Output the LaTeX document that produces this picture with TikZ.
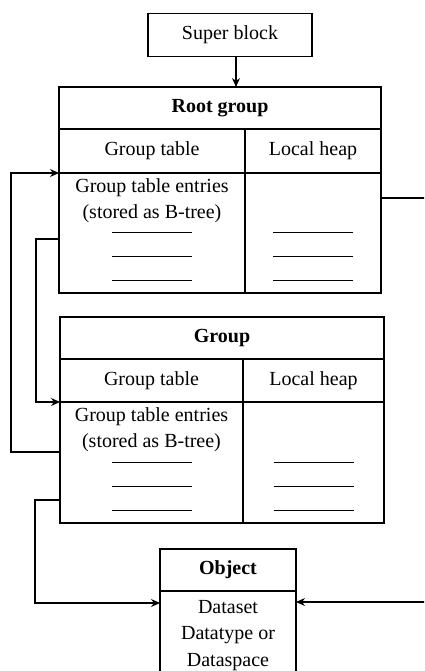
\documentclass[tikz,border=0pt]{standalone}
\usepackage{fontspec}
\setmainfont{Liberation Serif}
\usepackage{tikz}
\usetikzlibrary{calc,arrows.meta}

\tikzset{
  cell/.style={draw, line width=1.5pt, inner sep=0pt, outer sep=0pt, font=\fontsize{20}{25}\selectfont},
  celltext/.style={inner sep=0pt, align=center, font=\fontsize{20}{26}\selectfont},
  link/.style={line width=1.2pt},
  linkarrow/.style={link, -{Stealth[length=9pt,width=8pt]}},
  entryline/.style={line width=0.8pt}
}

\begin{document}
\begin{tikzpicture}[x=1pt,y=-1pt]
  \useasboundingbox (0,0) rectangle (424,671);
  \clip (0,0) rectangle (424,671);

  % Super block
  \node[cell, minimum width=164pt, minimum height=43pt] (super) at (230,35) {Super block};

  % Root group: title row, header row, entry row
  \node[cell, minimum width=322pt, minimum height=42pt, font=\fontsize{20}{25}\selectfont\bfseries] (roottitle) at (220,108) {Root group};
  \node[cell, minimum width=186pt, minimum height=44pt] (rootgt) at (152,151) {Group table};
  \node[cell, minimum width=136pt, minimum height=44pt] (rootlh) at (313,151) {Local heap};
  \node[cell, minimum width=186pt, minimum height=120pt] (rootents) at (152,233) {};
  \node[cell, minimum width=136pt, minimum height=120pt] (rootheap) at (313,233) {};
  \node[celltext, anchor=north] (roottxt) at ([yshift=-5pt]rootents.north) {Group table entries\\(stored as B-tree)};

  % Group: same layout
  \node[cell, minimum width=324pt, minimum height=42pt, font=\fontsize{20}{25}\selectfont\bfseries] (grptitle) at (222,338) {Group};
  \node[cell, minimum width=183pt, minimum height=43pt] (grpgt) at (151.5,380.5) {Group table};
  \node[cell, minimum width=141pt, minimum height=43pt] (grplh) at (313.5,380.5) {Local heap};
  \node[cell, minimum width=183pt, minimum height=121pt] (grpents) at (151.5,462.5) {};
  \node[cell, minimum width=141pt, minimum height=121pt] (grpheap) at (313.5,462.5) {};
  \node[celltext, anchor=north] (grptxt) at ([yshift=-5pt]grpents.north) {Group table entries\\(stored as B-tree)};

  % short entry lines in both tables
  \foreach \d in {13,37,61} {
    \draw[entryline] ([xshift=-40pt,yshift=\d pt]rootents.south) -- ([xshift=40pt,yshift=\d pt]rootents.south);
    \draw[entryline] ([xshift=-40pt,yshift=\d pt]rootheap.south) -- ([xshift=40pt,yshift=\d pt]rootheap.south);
    \draw[entryline] ([xshift=-40pt,yshift=\d pt]grpents.south) -- ([xshift=40pt,yshift=\d pt]grpents.south);
    \draw[entryline] ([xshift=-40pt,yshift=\d pt]grpheap.south) -- ([xshift=40pt,yshift=\d pt]grpheap.south);
  }

  % Object (runs past the bottom edge)
  \node[cell, minimum width=136pt, minimum height=42pt, font=\fontsize{20}{25}\selectfont\bfseries] (objtitle) at (228,570) {Object};
  \node[cell, minimum width=136pt, minimum height=109pt] (objbody) at (228,645.5) {};
  \node[celltext, anchor=north, font=\fontsize{20}{26.5}\selectfont] (objtxt) at ([yshift=-9pt]objbody.north) {Dataset\\Datatype or\\Dataspace};

  % connectors
  \coordinate (sbdrop) at ([xshift=6pt]super.south);
  \draw[linkarrow] (sbdrop) -- (sbdrop |- roottitle.north);
  \draw[linkarrow] ([yshift=10.5pt]grpents.west) -- ++(-49,0) |- (rootents.north west);
  \draw[linkarrow] ([yshift=-6pt]rootents.west) -- ++(-23,0) |- (grpents.north west);
  \draw[linkarrow] ([yshift=-37.5pt]grpents.west) -- ++(-25,0) |- ([yshift=-12pt]objbody.north west);
  \draw[linkarrow] ([yshift=35pt]rootheap.east) -- ++(60,0) |- ([yshift=-11pt]objbody.north east);
\end{tikzpicture}
\end{document}
